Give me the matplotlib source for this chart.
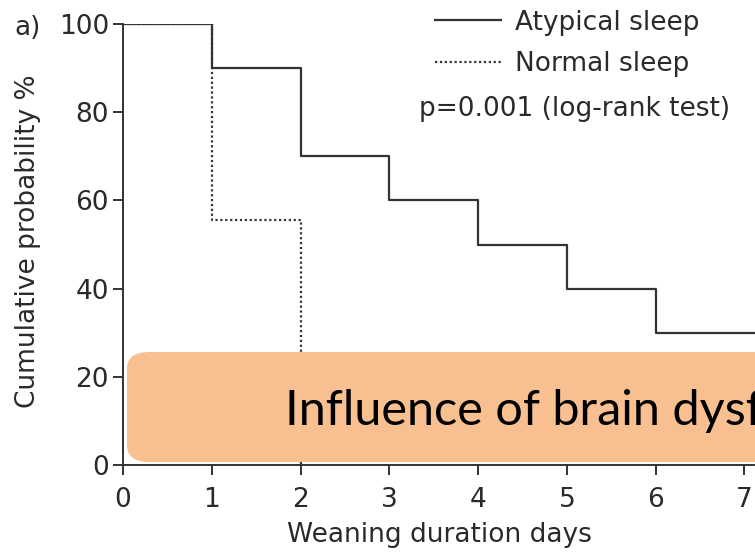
import matplotlib
matplotlib.use('Agg')
import matplotlib.pyplot as plt
from matplotlib.patches import FancyBboxPatch

# Kaplan-Meier curves: weaning duration by sleep pattern
atypical_days = [0, 1, 2, 3, 4, 5, 6, 7.5]
atypical_prob = [100, 90, 70, 60, 50, 40, 30, 30]
normal_days = [0, 1, 2]
normal_prob = [100, 55.6, 0]

x_ticks = [0, 1, 2, 3, 4, 5, 6, 7]
y_ticks = [0, 20, 40, 60, 80, 100]

line_col = '#333333'
txt_col = '#2a2a2a'
fs = 19
plt.rcParams['font.family'] = ['DejaVu Sans']

fig = plt.figure(figsize=(7.55, 5.53), dpi=100)
W, H = 755, 553
ax = fig.add_axes([123 / W, (H - 465) / H, (W - 123) / W, (465 - 24) / H])

ax.step(atypical_days, atypical_prob, where='post', color=line_col, lw=1.6,
        label='Atypical sleep', zorder=3)
ax.step(normal_days, normal_prob, where='post', color=line_col, lw=1.6,
        linestyle=(0, (1, 1.2)), label='Normal sleep', zorder=2)

ax.set_xlim(0, 7.12)
ax.set_ylim(0, 100)
ax.set_xticks(x_ticks)
ax.set_yticks(y_ticks)
for s in ['top', 'right']:
    ax.spines[s].set_visible(False)
for s in ['left', 'bottom']:
    ax.spines[s].set_color(line_col)
    ax.spines[s].set_linewidth(1.4)
ax.tick_params(colors=line_col, labelcolor=txt_col, length=7, width=1.4, labelsize=fs)
ax.tick_params(axis='x', pad=9)
ax.tick_params(axis='y', pad=3)

ax.set_xlabel('Weaning duration days', color=txt_col, fontsize=fs)
ax.set_ylabel('Cumulative probability %', color=txt_col, fontsize=fs)
ax.xaxis.set_label_coords(0.5, -0.13)
ax.yaxis.set_label_coords(-82 / 632, 0.508)

leg = ax.legend(loc='upper left', bbox_to_anchor=(432 / W, 1 - 7 / H), bbox_transform=fig.transFigure,
                frameon=False, handlelength=2.5, handletextpad=0.55, labelspacing=0.58,
                fontsize=fs, borderaxespad=0, borderpad=0.1)
for t in leg.get_texts():
    t.set_color(txt_col)

fig.text(419 / W, 1 - 109 / H, 'p=0.001 (log-rank test)', fontsize=fs, color=txt_col,
         va='center', ha='left')
fig.text(14 / W, 1 - 28 / H, 'a)', fontsize=fs, color=txt_col, va='center', ha='left')

# highlighted caption banner over the lower part of the plot
box = FancyBboxPatch((127 / W, (H - 462) / H), 700 / W, 110 / H,
                     boxstyle='round,pad=0,rounding_size=0.03', transform=fig.transFigure,
                     facecolor='#F8C091', edgecolor='none', zorder=5)
fig.patches.append(box)
fig.text(285 / W, 1 - 425 / H, 'Influence of brain dysfunction', fontsize=35,
         family=['Lato', 'DejaVu Sans'], color='black', va='baseline', ha='left', zorder=6)

fig.savefig('out.png', dpi=100)
